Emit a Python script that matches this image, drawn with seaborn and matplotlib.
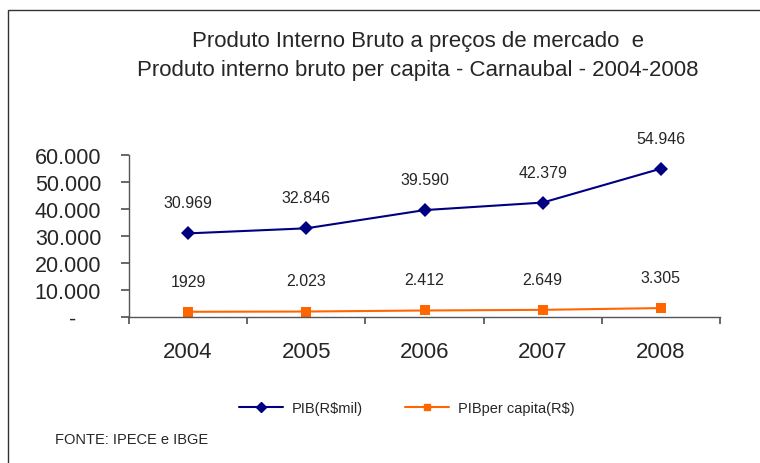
import numpy as np
import pandas as pd
import matplotlib
matplotlib.use("Agg")
import matplotlib.pyplot as plt
import matplotlib.transforms as mtransforms
import seaborn as sns
from matplotlib.patches import Rectangle

# Chart data
years = ["2004", "2005", "2006", "2007", "2008"]
pib_mil = [30969, 32846, 39590, 42379, 54946]
pib_per_capita = [1929, 2023, 2412, 2649, 3305]
pib_labels = ["30.969", "32.846", "39.590", "42.379", "54.946"]
pc_labels = ["1929", "2.023", "2.412", "2.649", "3.305"]
y_ticks = [0, 10000, 20000, 30000, 40000, 50000, 60000]
y_tick_labels = ["-", "10.000", "20.000", "30.000", "40.000", "50.000", "60.000"]

sns.set_theme(style="white")
plt.rcParams["font.family"] = ["Liberation Sans", "DejaVu Sans"]

df = pd.DataFrame({
    "ano": years * 2,
    "valor": pib_mil + pib_per_capita,
    "serie": ["PIB(R$mil)"] * 5 + ["PIBper capita(R$)"] * 5,
})
df["pos"] = list(range(5)) * 2

fig = plt.figure(figsize=(7.6, 4.64), dpi=100)
ax = fig.add_axes([129 / 760, 1 - 318 / 464, (720 - 129) / 760, (318 - 156) / 464])

palette = {"PIB(R$mil)": "#000080", "PIBper capita(R$)": "#FF6600"}
markers = {"PIB(R$mil)": "D", "PIBper capita(R$)": "s"}
sns.lineplot(data=df, x="pos", y="valor", hue="serie", style="serie",
             palette=palette, markers=markers, dashes=False, markersize=7,
             linewidth=1.5, markeredgewidth=0, ax=ax, legend=False)

for i in range(5):
    ax.annotate(pib_labels[i], (i, pib_mil[i]), xytext=(0, 22), textcoords="offset points",
                ha="center", va="center", fontsize=11.5)
    ax.annotate(pc_labels[i], (i, pib_per_capita[i]), xytext=(0, 22), textcoords="offset points",
                ha="center", va="center", fontsize=11.5)

ax.set_xlim(-0.5, 4.5)
ax.set_ylim(0, 60000)
ax.set_xticks(np.arange(-0.5, 5, 1))
ax.set_xticklabels([])
ax.set_xticks(range(5), minor=True)
ax.set_xticklabels(years, minor=True, fontsize=16)
ax.tick_params(axis="x", which="minor", length=0, pad=17)
ax.tick_params(axis="x", which="major", direction="out", length=5, color="#555555", bottom=True)
ax.set_yticks(y_ticks)
ax.set_yticklabels(y_tick_labels, fontsize=15.5)
ax.tick_params(axis="y", direction="out", length=6, color="#555555", left=True, pad=14)
# the "-" for zero sits further left, as in the original
zero_lbl = ax.get_yticklabels()[0]
zero_lbl.set_transform(zero_lbl.get_transform() + mtransforms.ScaledTranslation(-25 / 100, 0, fig.dpi_scale_trans))
ax.set_xlabel("")
ax.set_ylabel("")
for side in ["top", "right"]:
    ax.spines[side].set_visible(False)
for side in ["left", "bottom"]:
    ax.spines[side].set_color("#555555")
    ax.spines[side].set_linewidth(1)

fig.text(418 / 760, 1 - 42 / 464, "Produto Interno Bruto a preços de mercado  e",
         ha="center", va="center", fontsize=16)
fig.text(418 / 760, 1 - 71 / 464, "Produto interno bruto per capita - Carnaubal - 2004-2008",
         ha="center", va="center", fontsize=16)

# Legend at the bottom
handles = [
    plt.Line2D([], [], color="#000080", marker="D", markersize=5, linewidth=1.5),
    plt.Line2D([], [], color="#FF6600", marker="s", markersize=5, linewidth=1.5),
]
fig.legend(handles, ["PIB(R$mil)", "PIBper capita(R$)"], loc="center",
           bbox_to_anchor=(407 / 760, 1 - 409 / 464), ncol=2, frameon=False,
           fontsize=10.5, handlelength=3.0, columnspacing=2.9, handletextpad=0.6)

fig.text(55 / 760, 1 - 440 / 464, "FONTE: IPECE e IBGE", ha="left", va="center", fontsize=10.5)

fig.patches.append(Rectangle((8 / 760, -0.1), 1.2, 1 - 11 / 464 + 0.1, transform=fig.transFigure,
                             fill=False, edgecolor="#333333", linewidth=1))

fig.savefig("out.png", dpi=100)
